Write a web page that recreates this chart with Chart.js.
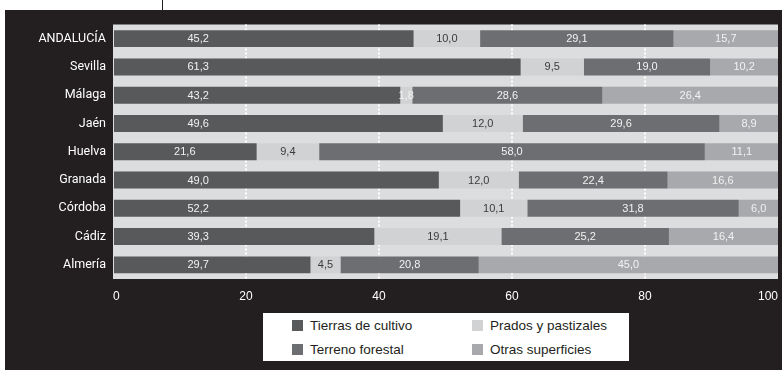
<!DOCTYPE html>
<html>
<head>
<meta charset="utf-8">
<script src="https://cdn.jsdelivr.net/npm/chart.js@4"></script>
<style>
  body { margin: 0; background: #fff; width: 782px; height: 370px; overflow: hidden; position: relative; font-family: "Liberation Sans", Arial, sans-serif; }
  #tick { position: absolute; left: 162px; top: 0; width: 1px; height: 10px; background: #231f20; }
  #panel { position: absolute; left: 5px; top: 10px; width: 800px; height: 360px; background: #231f20; }
  #chart { position: absolute; left: 0; top: 0; }
  #legend { position: absolute; left: 258px; top: 303px; width: 366px; height: 48px; background: #fff; }
  .item { position: absolute; font-size: 13.5px; color: #231f20; line-height: 14px; white-space: nowrap; }
  .item span.sw { position: absolute; left: 0; top: 1px; width: 11px; height: 11px; }
  .item span.tx { position: absolute; left: 18px; top: 0; }
</style>
</head>
<body>
<div id="tick"></div>
<div id="panel">
  <canvas id="chart" width="783" height="300"></canvas>
  <div id="legend"></div>
</div>
<script>
const provincias = ["ANDALUCÍA","Sevilla","Málaga","Jaén","Huelva","Granada","Córdoba","Cádiz","Almería"]
const tierrasCultivo = [45.2, 61.3, 43.2, 49.6, 21.6, 49.0, 52.2, 39.3, 29.7]
const pradosPastizales = [10.0, 9.5, 1.8, 12.0, 9.4, 12.0, 10.1, 19.1, 4.5]
const terrenoForestal = [29.1, 19.0, 28.6, 29.6, 58.0, 22.4, 31.8, 25.2, 20.8]
const otrasSuperficies = [15.7, 10.2, 26.4, 8.9, 11.1, 16.6, 6.0, 16.4, 45.0]
const ejeTicks = [0, 20, 40, 60, 80, 100]

const colores = ["#58595b", "#d1d2d4", "#6d6e71", "#a7a9ac"]

const dataObj = {
    labels: provincias,
    datasets: [
        { label: "Tierras de cultivo", data: tierrasCultivo, backgroundColor: colores[0] },
        { label: "Prados y pastizales", data: pradosPastizales, backgroundColor: colores[1] },
        { label: "Terreno forestal", data: terrenoForestal, backgroundColor: colores[2] },
        { label: "Otras superficies", data: otrasSuperficies, backgroundColor: colores[3] }
    ]
};

// fondo gris claro del area de trazado
const fondoPlot = {
    id: "fondoPlot",
    beforeDraw(chart) {
        const a = chart.chartArea, ctx = chart.ctx;
        ctx.save();
        ctx.fillStyle = "#dcdddf";
        ctx.fillRect(a.left, a.top, a.right - a.left, a.bottom - a.top);
        ctx.restore();
    }
};

// etiquetas de valores con coma decimal
const etiquetas = {
    id: "etiquetas",
    afterDatasetsDraw(chart) {
        const ctx = chart.ctx, xs = chart.scales.x;
        ctx.save();
        ctx.font = "11px 'Liberation Sans', Arial, sans-serif";
        ctx.textAlign = "center";
        ctx.textBaseline = "middle";
        chart.data.datasets.forEach(function (ds, i) {
            chart.getDatasetMeta(i).data.forEach(function (bar, j) {
                const v = ds.data[j];
                let x = (bar.x + bar.base) / 2;
                if (i === 0) x = xs.getPixelForValue(Math.min(v / 2, 12.8));
                ctx.fillStyle = (i === 1 && v >= 3) ? "#3b3b3d" : "#f2f2f2";
                ctx.fillText(v.toFixed(1).replace(".", ","), x, bar.y + 0.5);
            });
        });
        ctx.restore();
    }
};

const chart = new Chart("chart", {
    type: "bar",
    data: dataObj,
    plugins: [fondoPlot, etiquetas],
    options: {
        indexAxis: "y",
        responsive: false,
        animation: false,
        layout: { padding: { top: 13, right: 5, left: 0, bottom: 0 } },
        datasets: { bar: { categoryPercentage: 1, barPercentage: 0.6 } },
        plugins: { legend: { display: false }, tooltip: { enabled: false } },
        scales: {
            x: {
                stacked: true,
                min: 0,
                max: 100,
                afterFit(scale) { scale.height = 31; },
                afterBuildTicks(scale) { scale.ticks = ejeTicks.map(v => ({ value: v })); },
                ticks: { color: "#ffffff", padding: 10, align: "inner", font: { size: 12, family: "'Liberation Sans', Arial, sans-serif" } },
                grid: {
                    drawTicks: false,
                    lineWidth: 2,
                    color: ctx => (ctx.tick && ctx.tick.value > 0 && ctx.tick.value < 100) ? "#ffffff" : "rgba(0,0,0,0)"
                },
                border: { display: false, dash: [2, 2] }
            },
            y: {
                stacked: true,
                afterFit(scale) { scale.width = 108; },
                ticks: { color: "#ffffff", padding: 7, font: { size: 12.5, family: "Roboto, 'Liberation Sans', Arial, sans-serif" } },
                grid: { display: false, drawTicks: false },
                border: { display: false }
            }
        }
    }
});

// leyenda en 2 columnas
const posLeyenda = [[29, 6], [209, 6], [29, 30], [209, 30]];
let leg = document.getElementById("legend");
dataObj.datasets.forEach(function (ds, k) {
    let it = document.createElement("div");
    it.className = "item";
    it.style.left = posLeyenda[k][0] + "px";
    it.style.top = posLeyenda[k][1] + "px";
    it.innerHTML = '<span class="sw" style="background:' + ds.backgroundColor + '"></span><span class="tx">' + ds.label + '</span>';
    leg.appendChild(it);
});
</script>
</body>
</html>
